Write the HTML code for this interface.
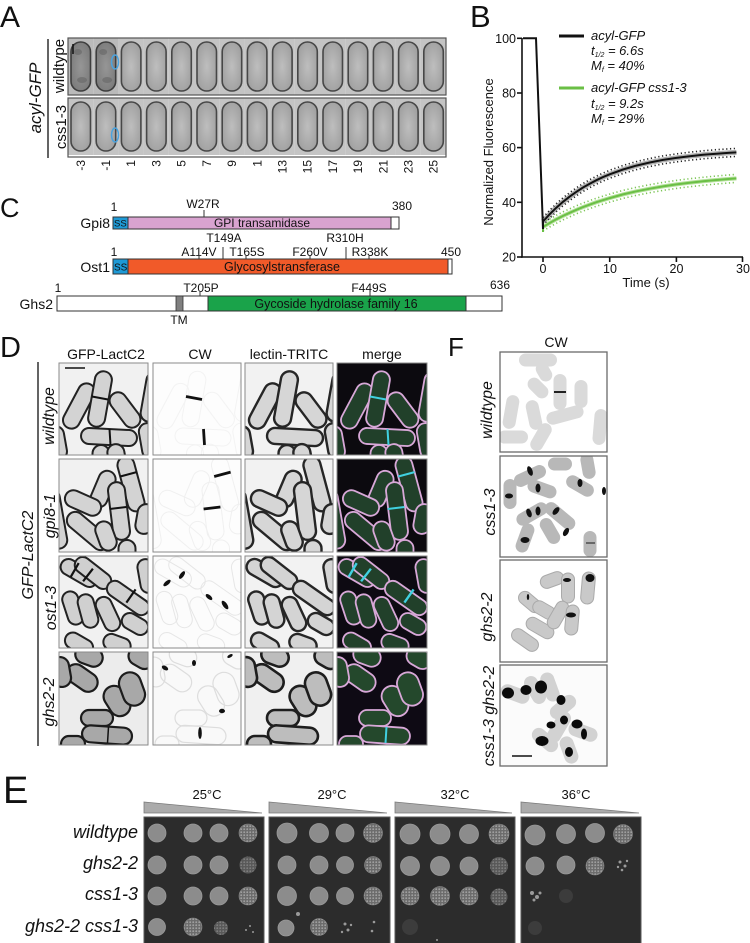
<!DOCTYPE html>
<html><head><meta charset="utf-8">
<style>
html,body{margin:0;padding:0;background:#fff;}
svg{display:block;}
text{font-family:"Liberation Sans",Arial,sans-serif;fill:#111;}
.it{font-style:italic;}
</style></head>
<body>
<svg width="750" height="943" viewBox="0 0 750 943" xmlns="http://www.w3.org/2000/svg" xmlns:xlink="http://www.w3.org/1999/xlink">
<defs>
  <radialGradient id="cg" cx="0.5" cy="0.5" r="0.6">
    <stop offset="0" stop-color="#bebebe"/><stop offset="1" stop-color="#9e9e9e"/>
  </radialGradient>
  <radialGradient id="cgd" cx="0.5" cy="0.5" r="0.6">
    <stop offset="0" stop-color="#969696"/><stop offset="1" stop-color="#7a7a7a"/>
  </radialGradient>
  <pattern id="spk" width="3" height="3" patternUnits="userSpaceOnUse">
    <rect width="3" height="3" fill="#6c6c6c"/><circle cx="1.2" cy="1.2" r="0.9" fill="#a2a2a2"/>
  </pattern>
  <g id="fr">
    <rect width="25.2" height="57" fill="#c4c4c4"/>
    <rect x="3" y="4" width="19.5" height="49" rx="9.7" fill="url(#cg)" stroke="#474747" stroke-width="1.6"/>
  </g>
  <g id="frd">
    <rect width="25.2" height="57" fill="#bababa"/>
    <rect x="3" y="4" width="19.5" height="49" rx="9.7" fill="url(#cgd)" stroke="#3e3e3e" stroke-width="1.6"/>
    <ellipse cx="10" cy="14" rx="4" ry="3" fill="#666" opacity="0.6"/>
    <ellipse cx="14" cy="42" rx="5" ry="3" fill="#666" opacity="0.6"/>
  </g>

  <g id="r1">
    <rect x="-4.5" y="34.5" width="49" height="17" rx="8.5" transform="rotate(-62 20 43)"/>
    <rect x="13" y="27.5" width="56" height="17" rx="8.5" transform="rotate(100 41 36)"/>
    <rect x="46" y="38.5" width="40" height="17" rx="8.5" transform="rotate(53 66 47)"/>
    <rect x="22" y="66" width="56" height="16" rx="8" transform="rotate(3 50 74)"/>
    <rect x="-19" y="71.5" width="34" height="17" rx="8.5" transform="rotate(80 -2 80)"/>
    <rect x="27" y="88.5" width="30" height="17" rx="8.5" transform="rotate(90 42 97)"/>
    <rect x="43" y="87.5" width="30" height="17" rx="8.5" transform="rotate(80 58 96)"/>
    <rect x="68" y="25.5" width="50" height="17" rx="8.5" transform="rotate(100 93 34)"/>
    <rect x="72" y="69.5" width="36" height="17" rx="8.5" transform="rotate(80 90 78)"/>
  </g>
  <g id="s1"><line x1="33" y1="33.5" x2="49" y2="36.5"/><line x1="50.5" y1="66" x2="51.5" y2="82"/></g>

  <g id="r2">
    <rect x="44" y="16.5" width="56" height="17" rx="8.5" transform="rotate(75 72 25)"/>
    <rect x="25" y="21.5" width="38" height="17" rx="8.5" transform="rotate(113 44 30)"/>
    <rect x="31" y="43.5" width="58" height="17" rx="8.5" transform="rotate(83 60 52)"/>
    <rect x="5" y="35.5" width="38" height="17" rx="8.5" transform="rotate(24 24 44)"/>
    <rect x="4" y="63.5" width="50" height="17" rx="8.5" transform="rotate(40 29 72)"/>
    <rect x="32" y="68.5" width="30" height="17" rx="8.5" transform="rotate(70 47 77)"/>
    <rect x="-34" y="51.5" width="60" height="17" rx="8.5" transform="rotate(80 -4 60)"/>
    <rect x="53" y="87.5" width="30" height="17" rx="8.5" transform="rotate(90 68 96)"/>
    <rect x="71" y="51.5" width="30" height="17" rx="8.5" transform="rotate(100 86 60)"/>
  </g>
  <g id="s2"><line x1="61.2" y1="17.5" x2="77.6" y2="13.1"/><line x1="50.6" y1="50" x2="67.4" y2="48"/></g>

  <g id="r3">
    <rect x="0" y="9" width="40" height="16" rx="8" transform="rotate(30 20 17)"/>
    <rect x="13" y="9" width="42" height="16" rx="8" transform="rotate(38 34 17)"/>
    <rect x="-3" y="44" width="34" height="16" rx="8" transform="rotate(72 14 52)"/>
    <rect x="12" y="47" width="34" height="16" rx="8" transform="rotate(75 29 55)"/>
    <rect x="45" y="34" width="48" height="16" rx="8" transform="rotate(35 69 42)"/>
    <rect x="31" y="50" width="36" height="16" rx="8" transform="rotate(65 49 58)"/>
    <rect x="62" y="60" width="28" height="16" rx="8" transform="rotate(30 76 68)"/>
    <rect x="5" y="80" width="30" height="16" rx="8" transform="rotate(30 20 88)"/>
    <rect x="71" y="12" width="34" height="16" rx="8" transform="rotate(80 88 20)"/>
    <rect x="44" y="80" width="28" height="16" rx="8" transform="rotate(20 58 88)"/>
  </g>
  <g id="s3"><line x1="19.7" y1="7.1" x2="11.7" y2="20.9"/><line x1="33.9" y1="12.7" x2="24.1" y2="25.3"/><line x1="76.6" y1="33.4" x2="67.4" y2="46.6"/></g>

  <g id="r4">
    <rect x="6" y="16.5" width="34" height="19" rx="9.5" transform="rotate(35 23 26)"/>
    <rect x="42" y="38.5" width="32" height="21" rx="10.5" transform="rotate(58 58 49)"/>
    <rect x="56" y="26" width="34" height="22" rx="11" transform="rotate(70 73 37)"/>
    <rect x="22" y="58" width="32" height="16" rx="8"/>
    <rect x="23" y="74.5" width="50" height="17" rx="8.5" transform="rotate(4 48 83)"/>
    <rect x="16" y="-5" width="28" height="18" rx="9" transform="rotate(20 30 4)"/>
    <rect x="69" y="-3" width="26" height="18" rx="9" transform="rotate(30 82 6)"/>
    <rect x="2" y="84" width="24" height="16" rx="8"/>
    <rect x="-13" y="11" width="30" height="18" rx="9" transform="rotate(80 2 20)"/>
  </g>
  <g id="s4"><line x1="49.5" y1="75" x2="48.5" y2="91"/></g>
</defs>

<!-- ============ PANEL A ============ -->
<text x="0" y="27" font-size="30">A</text>
<line x1="48" y1="39" x2="48" y2="158" stroke="#111" stroke-width="1.3"/>
<text class="it" font-size="17" text-anchor="middle" transform="translate(41 98) rotate(-90)">acyl-GFP</text>
<text font-size="15" text-anchor="middle" transform="translate(64 66) rotate(-90)">wildtype</text>
<text font-size="15" text-anchor="middle" transform="translate(66 127) rotate(-90)">css1-3</text>

<g>
  <use href="#frd" x="68" y="38"/><use href="#frd" x="93.2" y="38"/>
  <use href="#fr" x="118.4" y="38"/><use href="#fr" x="143.6" y="38"/><use href="#fr" x="168.8" y="38"/>
  <use href="#fr" x="194" y="38"/><use href="#fr" x="219.2" y="38"/><use href="#fr" x="244.4" y="38"/>
  <use href="#fr" x="269.6" y="38"/><use href="#fr" x="294.8" y="38"/><use href="#fr" x="320" y="38"/>
  <use href="#fr" x="345.2" y="38"/><use href="#fr" x="370.4" y="38"/><use href="#fr" x="395.6" y="38"/>
  <use href="#fr" x="420.8" y="38"/>
  <rect x="68" y="38" width="378" height="57" fill="none" stroke="#555" stroke-width="1.2"/>
  <line x1="73" y1="44" x2="73" y2="54" stroke="#111" stroke-width="1.5"/>
  <ellipse cx="115" cy="62" rx="3.5" ry="7" fill="none" stroke="#4aa3df" stroke-width="1.5"/>
</g>
<g transform="translate(0 60)">
  <use href="#fr" x="68" y="38"/><use href="#fr" x="93.2" y="38"/>
  <use href="#fr" x="118.4" y="38"/><use href="#fr" x="143.6" y="38"/><use href="#fr" x="168.8" y="38"/>
  <use href="#fr" x="194" y="38"/><use href="#fr" x="219.2" y="38"/><use href="#fr" x="244.4" y="38"/>
  <use href="#fr" x="269.6" y="38"/><use href="#fr" x="294.8" y="38"/><use href="#fr" x="320" y="38"/>
  <use href="#fr" x="345.2" y="38"/><use href="#fr" x="370.4" y="38"/><use href="#fr" x="395.6" y="38"/>
  <use href="#fr" x="420.8" y="38"/>
  <rect x="68" y="38" width="378" height="59" fill="none" stroke="#555" stroke-width="1.2"/>
  <ellipse cx="115" cy="75" rx="3.5" ry="7" fill="none" stroke="#4aa3df" stroke-width="1.5"/>
</g>
<g font-size="12" text-anchor="end">
  <text transform="translate(85 160) rotate(-90)">-3</text>
  <text transform="translate(110 160) rotate(-90)">-1</text>
  <text transform="translate(135 160) rotate(-90)">1</text>
  <text transform="translate(160.5 160) rotate(-90)">3</text>
  <text transform="translate(185.5 160) rotate(-90)">5</text>
  <text transform="translate(211 160) rotate(-90)">7</text>
  <text transform="translate(236 160) rotate(-90)">9</text>
  <text transform="translate(261.5 160) rotate(-90)">1</text>
  <text transform="translate(286.5 160) rotate(-90)">13</text>
  <text transform="translate(311.5 160) rotate(-90)">15</text>
  <text transform="translate(337 160) rotate(-90)">17</text>
  <text transform="translate(362 160) rotate(-90)">19</text>
  <text transform="translate(387.5 160) rotate(-90)">21</text>
  <text transform="translate(412.5 160) rotate(-90)">23</text>
  <text transform="translate(437.5 160) rotate(-90)">25</text>
</g>

<!-- ============ PANEL B ============ -->
<text x="470" y="27" font-size="31">B</text>
<g stroke="#111" stroke-width="1.6" fill="none">
  <line x1="522" y1="38" x2="522" y2="257.8"/>
  <line x1="521.2" y1="257" x2="743" y2="257"/>
  <line x1="517" y1="38.3" x2="522" y2="38.3"/>
  <line x1="517" y1="93" x2="522" y2="93"/>
  <line x1="517" y1="147.6" x2="522" y2="147.6"/>
  <line x1="517" y1="202.3" x2="522" y2="202.3"/>
  <line x1="517" y1="257" x2="522" y2="257"/>
  <line x1="543" y1="257" x2="543" y2="262"/>
  <line x1="609.7" y1="257" x2="609.7" y2="262"/>
  <line x1="676.4" y1="257" x2="676.4" y2="262"/>
  <line x1="742.5" y1="257" x2="742.5" y2="262"/>
</g>
<g font-size="12.5" text-anchor="end">
  <text x="516" y="43">100</text><text x="516" y="97.5">80</text><text x="516" y="152">60</text>
  <text x="516" y="207">40</text><text x="516" y="261.5">20</text>
</g>
<g font-size="12.5" text-anchor="middle">
  <text x="543" y="273">0</text><text x="610" y="273">10</text><text x="676.5" y="273">20</text><text x="743" y="273">30</text>
</g>
<text x="646" y="287" font-size="13" text-anchor="middle">Time (s)</text>
<text font-size="13" text-anchor="middle" transform="translate(493 152) rotate(-90)">Normalized  Fluorescence</text>

<polyline fill="none" stroke="#b0b0b0" stroke-width="5" points="543,221.5 549.7,214.2 556.3,207.7 563,201.8 569.7,196.6 576.4,191.8 583,187.5 589.7,183.7 596.4,180.2 603,177.1 609.7,174.3 623,169.5 636.4,165.6 649.7,162.5 663,159.9 676.4,157.9 689.7,156.2 703,154.8 716.4,153.7 729.8,152.8 736.4,152.4"/>
<polyline fill="none" stroke="#222" stroke-width="1.6" stroke-dasharray="1.2,2.6" transform="translate(0 -4)" points="543,221.5 549.7,214.2 556.3,207.7 563,201.8 569.7,196.6 576.4,191.8 583,187.5 589.7,183.7 596.4,180.2 603,177.1 609.7,174.3 623,169.5 636.4,165.6 649.7,162.5 663,159.9 676.4,157.9 689.7,156.2 703,154.8 716.4,153.7 729.8,152.8 736.4,152.4"/>
<polyline fill="none" stroke="#222" stroke-width="1.6" stroke-dasharray="1.2,2.6" transform="translate(0 4)" points="543,221.5 549.7,214.2 556.3,207.7 563,201.8 569.7,196.6 576.4,191.8 583,187.5 589.7,183.7 596.4,180.2 603,177.1 609.7,174.3 623,169.5 636.4,165.6 649.7,162.5 663,159.9 676.4,157.9 689.7,156.2 703,154.8 716.4,153.7 729.8,152.8 736.4,152.4"/>
<polyline fill="none" stroke="#b4e09a" stroke-width="4" points="543,226.9 549.7,223 556.3,219.3 563,215.9 569.7,212.8 576.4,209.8 583,207.1 596.4,202.2 609.7,198.1 623,194.4 636.4,191.3 649.7,188.7 663,186.4 676.4,184.4 689.7,182.7 703,181.3 716.4,180 729.8,178.9 736.4,178.4"/>
<polyline fill="none" stroke="#7cc555" stroke-width="1.6" stroke-dasharray="1.2,2.6" transform="translate(0 -4)" points="543,226.9 549.7,223 556.3,219.3 563,215.9 569.7,212.8 576.4,209.8 583,207.1 596.4,202.2 609.7,198.1 623,194.4 636.4,191.3 649.7,188.7 663,186.4 676.4,184.4 689.7,182.7 703,181.3 716.4,180 729.8,178.9 736.4,178.4"/>
<polyline fill="none" stroke="#7cc555" stroke-width="1.6" stroke-dasharray="1.2,2.6" transform="translate(0 4)" points="543,226.9 549.7,223 556.3,219.3 563,215.9 569.7,212.8 576.4,209.8 583,207.1 596.4,202.2 609.7,198.1 623,194.4 636.4,191.3 649.7,188.7 663,186.4 676.4,184.4 689.7,182.7 703,181.3 716.4,180 729.8,178.9 736.4,178.4"/>
<polyline fill="none" stroke="#6abf45" stroke-width="2" points="543,232 543,226.9 549.7,223 556.3,219.3 563,215.9 569.7,212.8 576.4,209.8 583,207.1 596.4,202.2 609.7,198.1 623,194.4 636.4,191.3 649.7,188.7 663,186.4 676.4,184.4 689.7,182.7 703,181.3 716.4,180 729.8,178.9 736.4,178.4"/>
<polyline fill="none" stroke="#111" stroke-width="2" points="523,38.3 536,38.3 543,229 543,221.5 549.7,214.2 556.3,207.7 563,201.8 569.7,196.6 576.4,191.8 583,187.5 589.7,183.7 596.4,180.2 603,177.1 609.7,174.3 623,169.5 636.4,165.6 649.7,162.5 663,159.9 676.4,157.9 689.7,156.2 703,154.8 716.4,153.7 729.8,152.8 736.4,152.4"/>
<line x1="559" y1="36" x2="584" y2="36" stroke="#111" stroke-width="3"/>
<line x1="559" y1="88" x2="584" y2="88" stroke="#6abf45" stroke-width="3"/>
<g class="it" font-size="13">
  <text x="591" y="40">acyl-GFP</text>
  <text x="591" y="55">t<tspan font-size="7" dy="2">1/2</tspan><tspan dy="-2"> = 6.6s</tspan></text>
  <text x="591" y="70">M<tspan font-size="7" dy="2">f</tspan><tspan dy="-2"> = 40%</tspan></text>
  <text x="591" y="92">acyl-GFP css1-3</text>
  <text x="591" y="108">t<tspan font-size="7" dy="2">1/2</tspan><tspan dy="-2"> = 9.2s</tspan></text>
  <text x="591" y="123">M<tspan font-size="7" dy="2">f</tspan><tspan dy="-2"> = 29%</tspan></text>
</g>

<!-- ============ PANEL C ============ -->
<text x="0" y="217" font-size="27">C</text>
<rect x="113" y="217" width="286" height="12" fill="#fff" stroke="#333" stroke-width="1"/>
<rect x="128" y="217" width="263" height="12" fill="#d9a3d0" stroke="#333" stroke-width="1"/>
<rect x="113" y="217" width="15" height="12" fill="#1e9ad6" stroke="#333" stroke-width="1"/>
<text x="114" y="226.5" font-size="9.5" fill="#123">SS</text>
<text x="262" y="227" font-size="12" text-anchor="middle" fill="#333">GPI transamidase</text>
<text x="110" y="228" font-size="14" text-anchor="end">Gpi8</text>
<text x="114" y="211" font-size="12" text-anchor="middle">1</text>
<text x="203" y="208" font-size="12" text-anchor="middle">W27R</text>
<line x1="204" y1="210" x2="204" y2="217" stroke="#333"/>
<text x="402" y="210" font-size="12" text-anchor="middle">380</text>
<rect x="113" y="259" width="339" height="15" fill="#fff" stroke="#333" stroke-width="1"/>
<rect x="128" y="259" width="320" height="15" fill="#f15a29" stroke="#333" stroke-width="1"/>
<rect x="113" y="259" width="15" height="15" fill="#1e9ad6" stroke="#333" stroke-width="1"/>
<text x="114" y="270.5" font-size="10" fill="#123">SS</text>
<text x="282" y="271" font-size="12.5" text-anchor="middle" fill="#5a1a0a">Glycosylstransferase</text>
<text x="110" y="272" font-size="14" text-anchor="end">Ost1</text>
<text x="114" y="256" font-size="12" text-anchor="middle">1</text>
<text x="451" y="256" font-size="12" text-anchor="middle">450</text>
<g font-size="12" text-anchor="middle">
  <text x="224" y="242">T149A</text><text x="345" y="242">R310H</text>
  <text x="199" y="256">A114V</text><text x="247" y="256">T165S</text><text x="310" y="256">F260V</text><text x="370" y="256">R338K</text>
</g>
<g stroke="#333" stroke-width="1">
  <line x1="199" y1="255" x2="199" y2="259"/><line x1="223" y1="247" x2="223" y2="259"/>
  <line x1="246" y1="256" x2="246" y2="259"/><line x1="310" y1="256" x2="310" y2="259"/>
  <line x1="346" y1="247" x2="346" y2="259"/><line x1="369" y1="256" x2="369" y2="259"/>
</g>
<rect x="57" y="296" width="445" height="15" fill="#fff" stroke="#333" stroke-width="1"/>
<rect x="176" y="296" width="7" height="15" fill="#808080" stroke="#333" stroke-width="0.8"/>
<rect x="208" y="296" width="258" height="15" fill="#1aa34a" stroke="#333" stroke-width="1"/>
<text x="336" y="308" font-size="12.5" text-anchor="middle" fill="#103818">Gycoside hydrolase family 16</text>
<text x="53" y="309" font-size="14" text-anchor="end">Ghs2</text>
<text x="58" y="292" font-size="12" text-anchor="middle">1</text>
<text x="201" y="292" font-size="12" text-anchor="middle">T205P</text>
<text x="369" y="292" font-size="12" text-anchor="middle">F449S</text>
<text x="500" y="289" font-size="12" text-anchor="middle">636</text>
<line x1="200" y1="292" x2="200" y2="296" stroke="#333"/>
<line x1="370" y1="292" x2="370" y2="296" stroke="#333"/>
<text x="179" y="324" font-size="12" text-anchor="middle">TM</text>

<!-- ============ PANEL D ============ -->
<text x="0" y="357" font-size="29">D</text>
<g font-size="14" text-anchor="middle">
  <text x="106" y="359">GFP-LactC2</text><text x="200" y="359">CW</text>
  <text x="289" y="359">lectin-TRITC</text><text x="382" y="359">merge</text>
</g>
<line x1="38" y1="362" x2="38" y2="746" stroke="#111" stroke-width="1.3"/>
<text class="it" font-size="16" text-anchor="middle" transform="translate(33 555) rotate(-90)">GFP-LactC2</text>
<g class="it" font-size="16" text-anchor="middle">
  <text transform="translate(54 416) rotate(-90)">wildtype</text>
  <text transform="translate(55 516) rotate(-90)">gpi8-1</text>
  <text transform="translate(56 608) rotate(-90)">ost1-3</text>
  <text transform="translate(54 702) rotate(-90)">ghs2-2</text>
</g>

<svg x="59" y="363" width="89" height="92"><rect width="89" height="92" fill="#f1f1f1"/><use href="#r1" fill="#d3d3d3" stroke="#222" stroke-width="2"/><use href="#s1" stroke="#111" stroke-width="2"/></svg>
<svg x="153" y="363" width="88" height="92"><rect width="88" height="92" fill="#fdfdfd"/><use href="#r1" fill="none" stroke="#f3f3f3" stroke-width="1"/><use href="#s1" stroke="#111" stroke-width="2.8"/></svg>
<svg x="245" y="363" width="88" height="92"><rect width="88" height="92" fill="#f2f2f2"/><use href="#r1" fill="#d6d6d6" stroke="#262626" stroke-width="2.4"/></svg>
<svg x="337" y="363" width="90" height="92"><rect width="90" height="92" fill="#0c0a0f"/><use href="#r1" fill="#21402a" stroke="#d8a8d8" stroke-width="1.8"/><use href="#s1" stroke="#40d0e0" stroke-width="2"/></svg>
<line x1="65" y1="368" x2="85" y2="368" stroke="#111" stroke-width="1.5"/>
<svg x="59" y="459" width="89" height="93"><rect width="89" height="93" fill="#f1f1f1"/><use href="#r2" fill="#d3d3d3" stroke="#222" stroke-width="2"/><use href="#s2" stroke="#111" stroke-width="2"/></svg>
<svg x="153" y="459" width="88" height="93"><rect width="88" height="93" fill="#fdfdfd"/><use href="#r2" fill="none" stroke="#f0f0f0" stroke-width="1"/><use href="#s2" stroke="#111" stroke-width="2.8"/></svg>
<svg x="245" y="459" width="88" height="93"><rect width="88" height="93" fill="#f2f2f2"/><use href="#r2" fill="#d6d6d6" stroke="#262626" stroke-width="2.4"/></svg>
<svg x="337" y="459" width="90" height="93"><rect width="90" height="93" fill="#0c0a0f"/><use href="#r2" fill="#21402a" stroke="#d8a8d8" stroke-width="1.8"/><use href="#s2" stroke="#40d0e0" stroke-width="2"/></svg>
<svg x="59" y="556" width="89" height="92"><rect width="89" height="92" fill="#f1f1f1"/><use href="#r3" fill="#d0d0d0" stroke="#222" stroke-width="2"/><use href="#s3" stroke="#111" stroke-width="2.2"/></svg>
<svg x="153" y="556" width="88" height="92"><rect width="88" height="92" fill="#fcfcfc"/><use href="#r3" fill="none" stroke="#e6e6e6" stroke-width="1"/>
  <g fill="#111"><ellipse cx="14" cy="27" rx="4.5" ry="2" transform="rotate(-40 14 27)"/><ellipse cx="29" cy="19" rx="4.5" ry="2" transform="rotate(-55 29 19)"/><ellipse cx="56" cy="41" rx="4" ry="2" transform="rotate(40 56 41)"/><ellipse cx="72" cy="49" rx="5" ry="2.2" transform="rotate(55 72 49)"/></g></svg>
<svg x="245" y="556" width="88" height="92"><rect width="88" height="92" fill="#f2f2f2"/><use href="#r3" fill="#d4d4d4" stroke="#262626" stroke-width="2.4"/></svg>
<svg x="337" y="556" width="90" height="92"><rect width="90" height="92" fill="#0d0a12"/><use href="#r3" fill="#21402a" stroke="#d8a8d8" stroke-width="1.8"/><use href="#s3" stroke="#40d0e0" stroke-width="2.4"/></svg>
<svg x="59" y="652" width="89" height="93"><rect width="89" height="93" fill="#ececec"/><use href="#r4" fill="#a8a8a8" stroke="#1c1c1c" stroke-width="2.2"/><use href="#s4" stroke="#111" stroke-width="1.5"/></svg>
<svg x="153" y="652" width="88" height="93"><rect width="88" height="93" fill="#f9f9f9"/><use href="#r4" fill="none" stroke="#dddddd" stroke-width="1.2"/>
  <g fill="#111"><ellipse cx="12" cy="16" rx="3.5" ry="2" transform="rotate(30 12 16)"/><ellipse cx="41" cy="11" rx="2" ry="3"/><ellipse cx="69" cy="59" rx="3" ry="2.2"/><ellipse cx="47" cy="81" rx="1.8" ry="6"/><ellipse cx="77" cy="4" rx="3" ry="1.5" transform="rotate(-30 77 4)"/></g></svg>
<svg x="245" y="652" width="88" height="93"><rect width="88" height="93" fill="#f0f0f0"/><use href="#r4" fill="#bdbdbd" stroke="#1e1e1e" stroke-width="2.6"/></svg>
<svg x="337" y="652" width="90" height="93"><rect width="90" height="93" fill="#0e0a14"/><use href="#r4" fill="#24482c" stroke="#d8a8d8" stroke-width="1.8"/><use href="#s4" stroke="#40d0e0" stroke-width="2"/></svg>
<g fill="none" stroke="#8a8a8a" stroke-width="1">
  <rect x="59" y="363" width="89" height="92"/><rect x="153" y="363" width="88" height="92"/><rect x="245" y="363" width="88" height="92"/><rect x="337" y="363" width="90" height="92"/>
  <rect x="59" y="459" width="89" height="93"/><rect x="153" y="459" width="88" height="93"/><rect x="245" y="459" width="88" height="93"/><rect x="337" y="459" width="90" height="93"/>
  <rect x="59" y="556" width="89" height="92"/><rect x="153" y="556" width="88" height="92"/><rect x="245" y="556" width="88" height="92"/><rect x="337" y="556" width="90" height="92"/>
  <rect x="59" y="652" width="89" height="93"/><rect x="153" y="652" width="88" height="93"/><rect x="245" y="652" width="88" height="93"/><rect x="337" y="652" width="90" height="93"/>
</g>

<!-- ============ PANEL F ============ -->
<text x="448" y="356" font-size="26">F</text>
<text x="556" y="347" font-size="14" text-anchor="middle">CW</text>
<g class="it" font-size="16" text-anchor="middle">
  <text transform="translate(492 410) rotate(-90)">wildtype</text>
  <text transform="translate(495 512) rotate(-90)">css1-3</text>
  <text transform="translate(492 617) rotate(-90)">ghs2-2</text>
  <text transform="translate(494 716) rotate(-90)">css1-3 ghs2-2</text>
</g>
<svg x="500" y="352" width="107" height="100"><rect width="107" height="100" fill="#fff"/>
  <g fill="#dadada">
    <rect x="19" y="1.5" width="38" height="13" rx="6.5"/>
    <rect x="26" y="29.5" width="24" height="13" rx="6.5" transform="rotate(45 38 36)"/>
    <rect x="42" y="33.5" width="36" height="13" rx="6.5" transform="rotate(90 60 40)"/>
    <rect x="67" y="35.5" width="28" height="13" rx="6.5" transform="rotate(90 81 42)"/>
    <rect x="-6" y="53.5" width="34" height="13" rx="6.5" transform="rotate(100 11 60)"/>
    <rect x="19" y="56.5" width="30" height="13" rx="6.5" transform="rotate(78 34 63)"/>
    <rect x="46" y="56.5" width="38" height="13" rx="6.5" transform="rotate(-15 65 63)"/>
    <rect x="26" y="78.5" width="30" height="13" rx="6.5" transform="rotate(120 41 85)"/>
    <rect x="-2" y="78.5" width="30" height="13" rx="6.5"/>
    <rect x="82" y="68.5" width="36" height="13" rx="6.5" transform="rotate(95 100 75)"/>
    <rect x="34" y="13.5" width="20" height="13" rx="6.5" transform="rotate(60 44 20)"/>
  </g>
  <line x1="54" y1="40" x2="66" y2="40" stroke="#222" stroke-width="2"/>
</svg>
<svg x="500" y="456" width="107" height="101"><rect width="107" height="101" fill="#fff"/>
  <g fill="#b8b8b8">
    <rect x="13" y="13.5" width="34" height="13" rx="6.5" transform="rotate(-25 30 20)"/>
    <rect x="-5" y="31.5" width="30" height="13" rx="6.5" transform="rotate(90 10 38)"/>
    <rect x="27" y="26.5" width="30" height="13" rx="6.5" transform="rotate(20 42 33)"/>
    <rect x="15" y="51.5" width="34" height="13" rx="6.5" transform="rotate(-30 32 58)"/>
    <rect x="42" y="53.5" width="36" height="13" rx="6.5" transform="rotate(40 60 60)"/>
    <rect x="10" y="75.5" width="30" height="13" rx="6.5" transform="rotate(-70 25 82)"/>
    <rect x="65" y="23.5" width="30" height="13" rx="6.5" transform="rotate(30 80 30)"/>
    <rect x="75" y="3.5" width="26" height="13" rx="6.5" transform="rotate(80 88 10)"/>
    <rect x="77" y="81.5" width="26" height="13" rx="6.5" transform="rotate(90 90 88)"/>
    <rect x="36" y="68.5" width="28" height="13" rx="6.5" transform="rotate(60 50 75)"/>
    <rect x="48" y="1.5" width="24" height="13" rx="6.5"/>
  </g>
  <g fill="#111">
    <ellipse cx="30" cy="15" rx="2.5" ry="5" transform="rotate(-20 30 15)"/>
    <ellipse cx="9" cy="40" rx="4" ry="2.5"/>
    <ellipse cx="38" cy="32" rx="2.5" ry="4.5"/>
    <ellipse cx="29" cy="57" rx="2.5" ry="4.5" transform="rotate(-20 29 57)"/>
    <ellipse cx="38" cy="55" rx="2.5" ry="4.5"/>
    <ellipse cx="56" cy="55" rx="2.5" ry="4.5" transform="rotate(40 56 55)"/>
    <ellipse cx="66" cy="76" rx="2.5" ry="4.5" transform="rotate(30 66 76)"/>
    <ellipse cx="25" cy="84" rx="4.5" ry="3"/>
    <ellipse cx="80" cy="27" rx="2.5" ry="4"/>
    <ellipse cx="104" cy="35" rx="2" ry="4"/>
  </g>
  <line x1="86" y1="87" x2="95" y2="87" stroke="#333" stroke-width="1.2"/>
</svg>
<svg x="500" y="560" width="107" height="102"><rect width="107" height="102" fill="#fff"/>
  <g fill="#c9c9c9" stroke="#aaa" stroke-width="1">
    <rect x="40" y="13.5" width="24" height="13" rx="6.5" transform="rotate(-20 52 20)"/>
    <rect x="53" y="21.5" width="30" height="13" rx="6.5" transform="rotate(90 68 28)"/>
    <rect x="72" y="21.5" width="32" height="13" rx="6.5" transform="rotate(95 88 28)"/>
    <rect x="17" y="35.5" width="26" height="13" rx="6.5" transform="rotate(40 30 42)"/>
    <rect x="32" y="43.5" width="24" height="13" rx="6.5" transform="rotate(30 44 50)"/>
    <rect x="25" y="61.5" width="30" height="13" rx="6.5" transform="rotate(30 40 68)"/>
    <rect x="43" y="48.5" width="30" height="13" rx="6.5" transform="rotate(-60 58 55)"/>
    <rect x="57" y="53.5" width="30" height="13" rx="6.5" transform="rotate(95 72 60)"/>
    <rect x="10" y="73.5" width="30" height="13" rx="6.5" transform="rotate(35 25 80)"/>
  </g>
  <g fill="#111">
    <ellipse cx="90" cy="18" rx="4.5" ry="4"/><ellipse cx="67" cy="20" rx="4" ry="2"/>
    <ellipse cx="71" cy="55" rx="5" ry="2.5"/><ellipse cx="28" cy="37" rx="1.2" ry="3"/>
  </g>
</svg>
<svg x="500" y="665" width="107" height="101"><rect width="107" height="101" fill="#fbfbfb"/>
  <g fill="#d2d2d2">
    <rect x="0" y="22" width="30" height="14" rx="7" transform="rotate(20 15 29)"/>
    <rect x="20" y="18" width="30" height="14" rx="7" transform="rotate(60 35 25)"/>
    <rect x="35" y="15" width="30" height="14" rx="7" transform="rotate(70 50 22)"/>
    <rect x="48" y="35" width="30" height="14" rx="7" transform="rotate(-40 63 42)"/>
    <rect x="42" y="55" width="34" height="14" rx="7" transform="rotate(-60 59 62)"/>
    <rect x="68" y="60" width="30" height="14" rx="7" transform="rotate(20 83 67)"/>
    <rect x="30" y="68" width="30" height="14" rx="7" transform="rotate(40 45 75)"/>
    <rect x="55" y="78" width="28" height="14" rx="7" transform="rotate(70 69 85)"/>
  </g>
  <g fill="#0a0a0a">
    <ellipse cx="8" cy="28" rx="6" ry="5.5"/><ellipse cx="26" cy="25" rx="5.5" ry="5"/><ellipse cx="41" cy="22" rx="6" ry="6.5"/>
    <ellipse cx="61" cy="35" rx="4.5" ry="5"/><ellipse cx="64" cy="55" rx="4" ry="4.5"/><ellipse cx="51" cy="60" rx="4.5" ry="3.5"/>
    <ellipse cx="77" cy="59" rx="5.5" ry="4.5"/><ellipse cx="84" cy="69" rx="3" ry="5.5"/><ellipse cx="42" cy="76" rx="6.5" ry="5"/>
    <ellipse cx="69" cy="87" rx="4" ry="5"/>
  </g>
  <line x1="12" y1="91" x2="32" y2="91" stroke="#111" stroke-width="1.6"/>
</svg>
<g fill="none" stroke="#6a6a6a" stroke-width="1.3">
  <rect x="500" y="352" width="107" height="100"/><rect x="500" y="456" width="107" height="101"/>
  <rect x="500" y="560" width="107" height="102"/><rect x="500" y="665" width="107" height="101"/>
</g>

<!-- ============ PANEL E ============ -->
<text x="3" y="803" font-size="38">E</text>
<g font-size="13" text-anchor="middle">
  <text x="207" y="799">25°C</text><text x="332" y="799">29°C</text><text x="455" y="799">32°C</text><text x="576" y="799">36°C</text>
</g>
<g fill="#ababab" stroke="#7a7a7a" stroke-width="0.8">
  <polygon points="144,802 262,813 144,813"/><polygon points="269,802 387,813 269,813"/>
  <polygon points="395,802 512,813 395,813"/><polygon points="521,802 639,813 521,813"/>
</g>
<g class="it" font-size="18" text-anchor="end">
  <text x="138" y="838">wildtype</text><text x="138" y="869">ghs2-2</text>
  <text x="138" y="900">css1-3</text><text x="138" y="932">ghs2-2 css1-3</text>
</g>
<g fill="#2c2c2c" stroke="#5a5a5a" stroke-width="1">
  <rect x="144" y="817" width="120" height="127"/><rect x="269" y="817" width="121" height="127"/>
  <rect x="395" y="817" width="120" height="127"/><rect x="521" y="817" width="120" height="127"/>
</g>
<g fill="#8c8c8c" stroke="#9a9a9a" stroke-width="0.8">
  <circle cx="157" cy="833" r="9"/><circle cx="193" cy="833" r="9"/><circle cx="219" cy="833" r="9"/>
  <circle cx="157" cy="865" r="9"/><circle cx="193" cy="865" r="9"/><circle cx="219" cy="865" r="9"/>
  <circle cx="157" cy="896" r="9"/><circle cx="193" cy="896" r="9"/><circle cx="219" cy="896" r="9"/>
  <circle cx="157" cy="927" r="8.5"/>
  <circle cx="287" cy="833" r="10"/><circle cx="319" cy="833" r="9.5"/><circle cx="345" cy="833" r="9"/>
  <circle cx="287" cy="865" r="9"/><circle cx="319" cy="865" r="9"/><circle cx="345" cy="865" r="8.5"/>
  <circle cx="287" cy="896" r="9.5"/><circle cx="319" cy="896" r="9"/><circle cx="345" cy="896" r="8.5"/>
  <circle cx="286" cy="928" r="8"/>
  <circle cx="410" cy="834" r="10"/><circle cx="440" cy="834" r="10"/><circle cx="469" cy="834" r="9.5"/>
  <circle cx="410" cy="866" r="9.5"/><circle cx="440" cy="866" r="9.5"/><circle cx="469" cy="866" r="9"/>
  <circle cx="535" cy="835" r="10"/><circle cx="566" cy="834" r="9.5"/><circle cx="595" cy="833" r="9.5"/>
  <circle cx="535" cy="866" r="9"/><circle cx="566" cy="865" r="9"/>
</g>
<g fill="url(#spk)" stroke="#8a8a8a" stroke-width="0.6">
  <circle cx="248" cy="833" r="9"/><circle cx="248" cy="896" r="9"/><circle cx="193" cy="927" r="9"/>
  <circle cx="373" cy="833" r="9.5"/><circle cx="373" cy="865" r="8.5"/><circle cx="373" cy="896" r="9"/><circle cx="319" cy="927" r="8.5"/>
  <circle cx="499" cy="834" r="10"/><circle cx="410" cy="896" r="9"/><circle cx="440" cy="896" r="9.5"/><circle cx="469" cy="896" r="9"/>
  <circle cx="623" cy="834" r="9.5"/><circle cx="595" cy="866" r="9"/>
</g>
<g fill="url(#spk)" opacity="0.7">
  <circle cx="248" cy="865" r="8.5"/><circle cx="499" cy="866" r="9"/><circle cx="499" cy="897" r="8.5"/><circle cx="221" cy="928" r="7"/>
</g>
<g fill="#9a9a9a">
  <circle cx="345" cy="924" r="1.5"/><circle cx="348" cy="930" r="1.5"/><circle cx="342" cy="932" r="1.2"/><circle cx="351" cy="925" r="1.2"/>
  <circle cx="374" cy="922" r="1.3"/><circle cx="372" cy="931" r="1.3"/><circle cx="298" cy="914" r="2"/>
  <circle cx="246" cy="930" r="1"/><circle cx="250" cy="926" r="1"/><circle cx="253" cy="932" r="1"/>
  <circle cx="620" cy="862" r="1.5"/><circle cx="625" cy="866" r="1.5"/><circle cx="622" cy="870" r="1.3"/><circle cx="618" cy="867" r="1.2"/><circle cx="627" cy="861" r="1.2"/>
  <circle cx="532" cy="893" r="2"/><circle cx="537" cy="897" r="2"/><circle cx="540" cy="893" r="1.5"/><circle cx="534" cy="900" r="1.5"/>
  <circle cx="437" cy="940" r="1"/>
</g>
<g fill="#3c3c3c">
  <circle cx="566" cy="896" r="7"/><circle cx="410" cy="927" r="8"/><circle cx="535" cy="928" r="7"/>
</g>
</svg>
</body></html>
